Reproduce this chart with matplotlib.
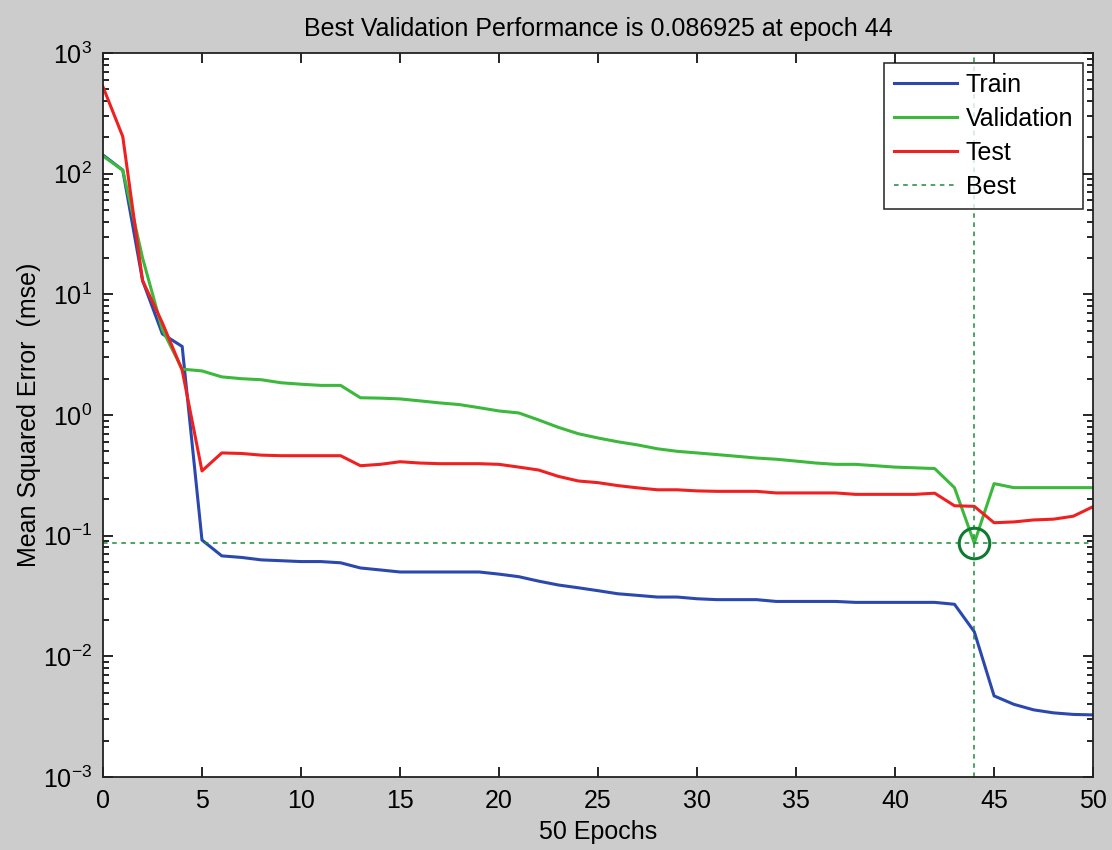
import matplotlib
matplotlib.use("Agg")
import matplotlib.pyplot as plt
import numpy as np

epochs = list(range(0, 51))
train = [143, 107, 13, 4.7, 3.7, 0.092, 0.068, 0.066, 0.063, 0.062,
         0.061, 0.061, 0.0596, 0.054, 0.052, 0.050, 0.050, 0.050, 0.050, 0.050,
         0.048, 0.0457, 0.042, 0.039, 0.037, 0.035, 0.033, 0.032, 0.031, 0.031,
         0.030, 0.0295, 0.0295, 0.0295, 0.0285, 0.0285, 0.0285, 0.0285, 0.028, 0.028,
         0.028, 0.028, 0.028, 0.027, 0.016, 0.0047, 0.0040, 0.0036, 0.0034, 0.0033,
         0.00327]
validation = [140, 107, 20, 5.1, 2.4, 2.32, 2.07, 2.0, 1.96, 1.85,
              1.8, 1.76, 1.76, 1.39, 1.38, 1.36, 1.31, 1.26, 1.22, 1.15,
              1.08, 1.04, 0.91, 0.79, 0.70, 0.645, 0.60, 0.565, 0.525, 0.50,
              0.485, 0.47, 0.455, 0.44, 0.43, 0.415, 0.40, 0.39, 0.39, 0.38,
              0.37, 0.365, 0.36, 0.25, 0.086925, 0.27, 0.25, 0.25, 0.25, 0.25,
              0.25]
test = [525, 203, 13, 5.8, 2.35, 0.344, 0.485, 0.48, 0.465, 0.46,
        0.46, 0.46, 0.46, 0.38, 0.39, 0.41, 0.40, 0.395, 0.395, 0.395,
        0.39, 0.37, 0.35, 0.31, 0.284, 0.275, 0.26, 0.249, 0.24, 0.24,
        0.235, 0.233, 0.233, 0.233, 0.226, 0.226, 0.226, 0.226, 0.22, 0.22,
        0.22, 0.22, 0.225, 0.177, 0.175, 0.128, 0.13, 0.135, 0.137, 0.145,
        0.174]
best_epoch = 44
best_perf = 0.086925

FONT = ['Liberation Sans', 'DejaVu Sans']
plt.rcParams['font.family'] = FONT
plt.rcParams['mathtext.fontset'] = 'custom'
plt.rcParams['mathtext.rm'] = 'Liberation Sans'
plt.rcParams['mathtext.default'] = 'regular'

fig = plt.figure(figsize=(11.12, 8.5), dpi=100)
fig.patch.set_facecolor('#cccccc')
ax = fig.add_axes([0.0926, 0.0859, 0.8904, 0.8517])
ax.set_facecolor('white')

c_train = '#2b48ae'
c_val = '#3cb83c'
c_test = '#f02020'
c_best = '#1a8c3a'

ax.plot(epochs, train, color=c_train, lw=2.2, label='Train')
ax.plot(epochs, validation, color=c_val, lw=2.2, label='Validation')
ax.plot(epochs, test, color=c_test, lw=2.2, label='Test')
ax.axvline(best_epoch, color=c_best, lw=1.1, ls=(0, (3, 3)), label='Best')
ax.axhline(best_perf, color=c_best, lw=1.1, ls=(0, (3, 3)))
ax.plot([best_epoch], [best_perf], 'o', mfc='none', mec='#107a30', mew=2.2, ms=22)

ax.set_yscale('log')
ax.set_xlim(0, 50)
ax.set_ylim(1e-3, 1e3)
ax.set_xticks(range(0, 51, 5))
ax.set_yticks([1e-3, 1e-2, 1e-1, 1e0, 1e1, 1e2, 1e3])
ax.set_yticklabels([r'$10^{-3}$', r'$10^{-2}$', r'$10^{-1}$', r'$10^{0}$',
                    r'$10^{1}$', r'$10^{2}$', r'$10^{3}$'])
ax.tick_params(which='both', direction='in', top=True, right=True, colors='black',
               labelsize=18, width=1.2)
ax.tick_params(which='major', length=7, pad=9)
ax.tick_params(axis='y', which='major', pad=8)
ax.tick_params(which='minor', length=4.5)
ax.minorticks_on()
ax.xaxis.set_minor_locator(matplotlib.ticker.NullLocator())
for s in ax.spines.values():
    s.set_linewidth(1.3)
    s.set_color('#222222')

ax.set_title('Best Validation Performance is 0.086925 at epoch 44', fontsize=18, pad=12)
ax.set_xlabel('50 Epochs', fontsize=18, labelpad=5)
ax.set_ylabel('Mean Squared Error  (mse)', fontsize=18, labelpad=1)

leg = ax.legend(loc='upper right', fontsize=18, frameon=True, fancybox=False,
                handlelength=2.5, handletextpad=0.35, borderpad=0.4, labelspacing=0.4,
                borderaxespad=0.4)
leg.get_frame().set_edgecolor('black')
leg.get_frame().set_linewidth(1.2)

fig.savefig('out.png', dpi=100, facecolor=fig.get_facecolor())
